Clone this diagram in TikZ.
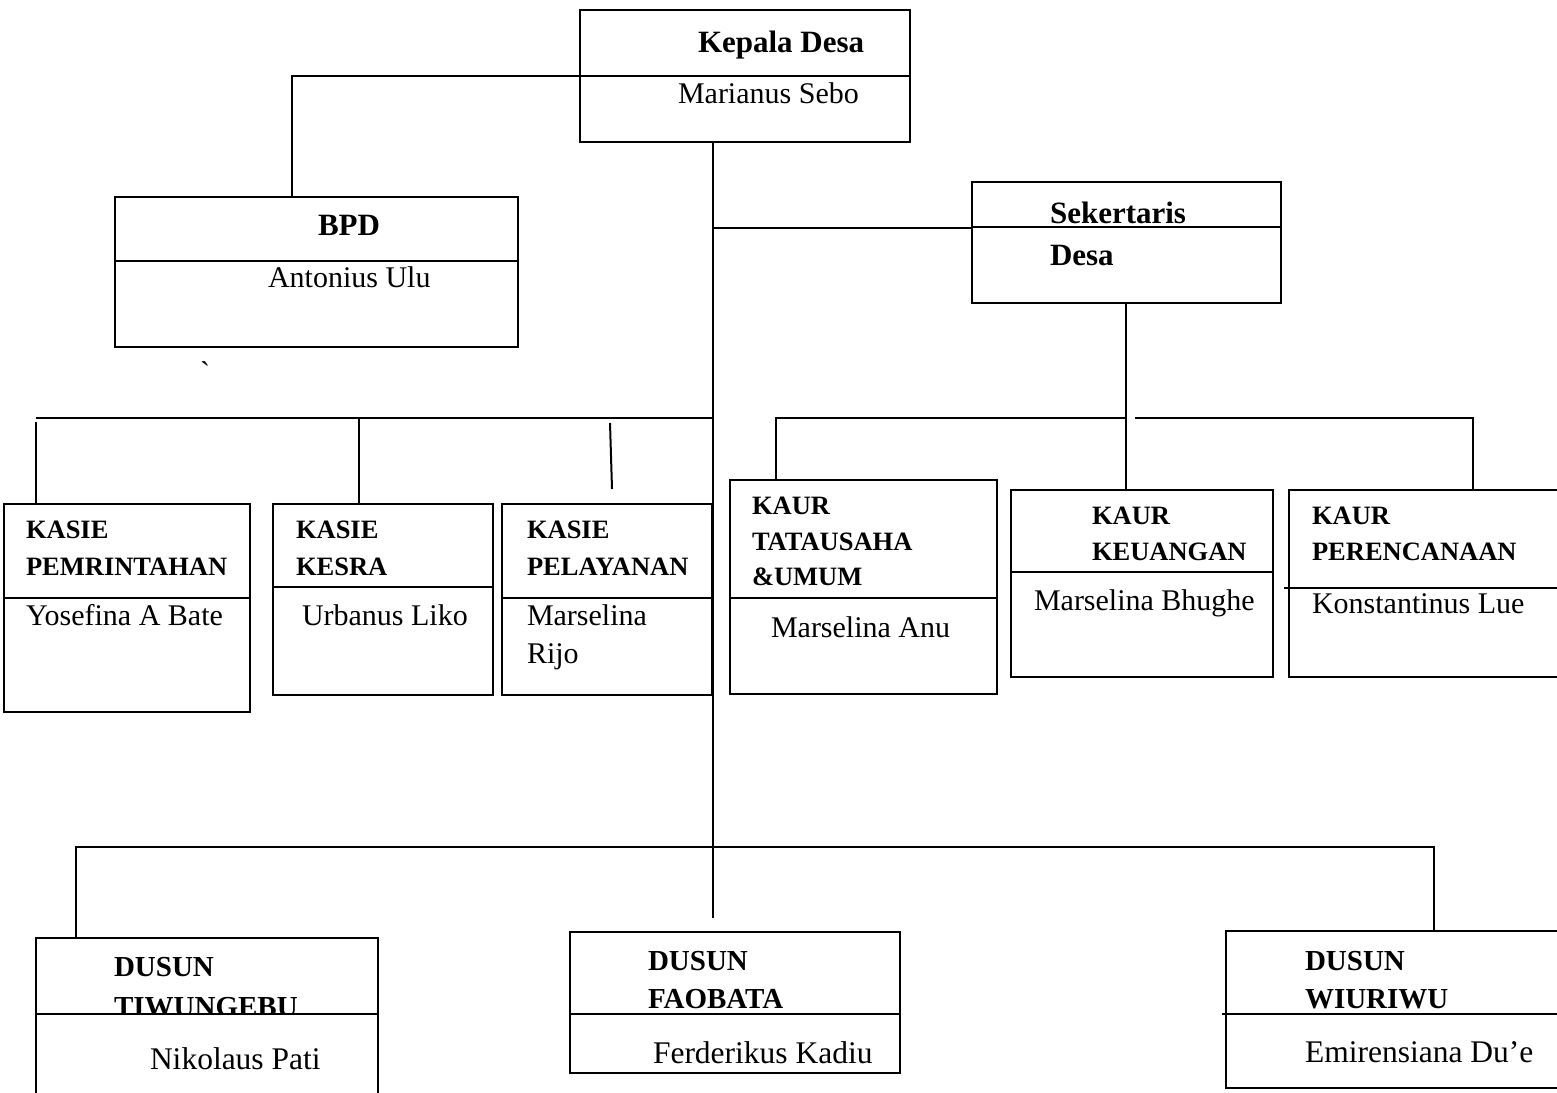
\documentclass[tikz,border=0pt]{standalone}
\usepackage{fontspec}
\setmainfont{Liberation Serif}
\newfontfamily\gravefont[Ligatures=TeXOff]{Liberation Serif}
\begin{document}
\begin{tikzpicture}[x=1pt,y=-1pt,line width=2pt,
  orgbox/.style={draw,rectangle,inner sep=0pt,outer sep=0pt,anchor=north west},
  head/.style={anchor=base west,inner sep=0pt,font=\fontsize{31}{36}\selectfont\bfseries},
  lab/.style={anchor=base west,inner sep=0pt,font=\fontsize{26.5}{30}\selectfont\bfseries},
  dlab/.style={anchor=base west,inner sep=0pt,font=\fontsize{29}{34}\selectfont\bfseries},
  nm/.style={anchor=base west,inner sep=0pt,font=\fontsize{30}{36}\selectfont},
  nmb/.style={anchor=base west,inner sep=0pt,font=\fontsize{31.5}{36}\selectfont}]
\useasboundingbox (0,0) rectangle (1557,1092);

% ---------- boxes ----------
\node[orgbox,minimum width=330pt,minimum height=132pt] (kd) at (580,10) {};
\draw (580,76) -- (910,76);
\node[orgbox,minimum width=403pt,minimum height=150pt] (bpd) at (115,197) {};
\draw (115,261) -- (518,261);
\node[orgbox,minimum width=309pt,minimum height=121pt] (sd) at (972,182) {};
\draw (972,227) -- (1281,227);

\node[orgbox,minimum width=246pt,minimum height=208pt] (k1) at (4,504) {};
\draw (4,598) -- (250,598);
\node[orgbox,minimum width=220pt,minimum height=191pt] (k2) at (273,504) {};
\draw (273,587) -- (493,587);
\node[orgbox,minimum width=210pt,minimum height=191pt] (k3) at (502,504) {};
\draw (502,598) -- (712,598);

\node[orgbox,minimum width=267pt,minimum height=214pt] (u1) at (730,480) {};
\draw (730,598) -- (997,598);
\node[orgbox,minimum width=262pt,minimum height=187pt] (u2) at (1011,490) {};
\draw (1011,572) -- (1273,572);
\node[orgbox,minimum width=290pt,minimum height=187pt] (u3) at (1289,490) {};
\draw (1284,588) -- (1580,588);

\node[orgbox,minimum width=342pt,minimum height=180pt] (d1) at (36,938) {};
\node[orgbox,minimum width=330pt,minimum height=141pt] (d2) at (570,932) {};
\draw (570,1014) -- (900,1014);
\node[orgbox,minimum width=350pt,minimum height=157pt] (d3) at (1226,931) {};
\draw (1222,1014) -- (1580,1014);

% ---------- connectors ----------
\coordinate (j1) at (292,76);
\draw (kd.west |- j1) -- (j1) -- (j1 |- bpd.north);
\coordinate (tEnd) at (713,918);
\draw (tEnd |- kd.south) -- (tEnd);
\coordinate (js) at (713,228);
\draw (js) -- (js -| sd.west);

\coordinate (kb) at (713,418);
\coordinate (kbL) at (36,418);
\draw (kbL) -- (kb);
\coordinate (v1) at (36,422);
\draw (v1) -- (v1 |- k1.north);
\coordinate (v2) at (359,418);
\draw (v2) -- (v2 |- k2.north);
\coordinate (s1) at (610,423);
\coordinate (s2) at (612,489);
\draw (s1) -- (s2);

\coordinate (sx) at (1126,418);
\draw (sx |- sd.south) -- (sx |- u2.north);
\coordinate (ub1) at (776,418);
\draw (ub1 |- u1.north) -- (ub1) -- (sx);
\coordinate (ub2) at (1135,418);
\coordinate (ub3) at (1473,418);
\draw (ub2) -- (ub3) -- (ub3 |- u3.north);

\coordinate (db1) at (76,847);
\coordinate (db2) at (1434,847);
\draw (db1 |- d1.north) -- (db1) -- (db2) -- (db2 |- d3.north);

% ---------- texts ----------
\node[head] (t1) at (697,52) {Kepala Desa};
\node[nm] (t2) at (677,103) {Marianus Sebo};
\node[head] (t3) at (317,235) {BPD};
\node[nm] (t4) at (267,287) {Antonius Ulu};
\node[nm] (t5) at (199,382) {\gravefont\symbol{96}};
\node[head] (t6) at (1049,223) {Sekertaris};
\node[head] (t7) at (1049,265) {Desa};

\node[lab] (a1) at (25,538) {KASIE};
\node[lab] (a2) at (25,575) {PEMRINTAHAN};
\node[nm] (a3) at (25,625) {Yosefina A Bate};
\node[lab] (b1) at (295,538) {KASIE};
\node[lab] (b2) at (295,575) {KESRA};
\node[nm] (b3) at (301,625) {Urbanus Liko};
\node[lab] (c1) at (526,538) {KASIE};
\node[lab] (c2) at (526,575) {PELAYANAN};
\node[nm] (c3) at (526,625) {Marselina};
\node[nm] (c4) at (526,663) {Rijo};

\node[lab] (e1) at (751,514) {KAUR};
\node[lab] (e2) at (751,550) {TATAUSAHA};
\node[lab] (e3) at (751,585) {\&UMUM};
\node[nm] (e4) at (770,637) {Marselina Anu};
\node[lab] (f1) at (1091,524) {KAUR};
\node[lab] (f2) at (1091,560) {KEUANGAN};
\node[nm] (f3) at (1033,610) {Marselina Bhughe};
\node[lab] (g1) at (1311,524) {KAUR};
\node[lab] (g2) at (1311,560) {PERENCANAAN};
\node[nm] (g3) at (1311,613) {Konstantinus Lue};

\node[dlab] (h1) at (113,976) {DUSUN};
\begin{scope}
\clip (36,938) rectangle (378,1014);
\node[dlab] (h2) at (113,1016) {TIWUNGEBU};
\end{scope}
\draw (36,1014) -- (378,1014);
\node[nmb] (h3) at (149,1069) {Nikolaus Pati};
\node[dlab] (i1) at (647,970) {DUSUN};
\node[dlab] (i2) at (647,1008) {FAOBATA};
\node[nmb] (i3) at (652,1063) {Ferderikus Kadiu};
\node[dlab] (l1) at (1304,970) {DUSUN};
\node[dlab] (l2) at (1304,1008) {WIURIWU};
\node[nmb] (l3) at (1304,1062) {Emirensiana Du’e};
\end{tikzpicture}
\end{document}
